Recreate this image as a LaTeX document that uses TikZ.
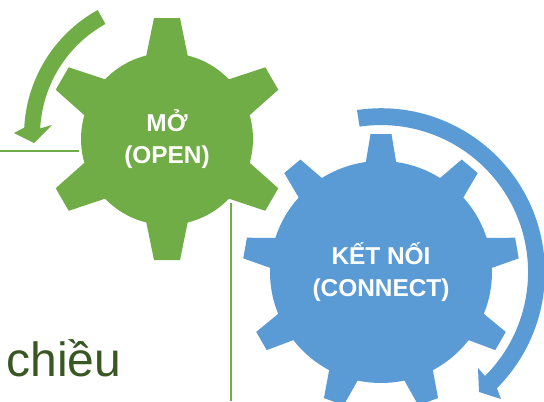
\documentclass[tikz,border=0pt]{standalone}
\usepackage{fontspec}
\setmainfont{Liberation Sans}
\definecolor{gearGreen}{RGB}{112,173,71}
\definecolor{gearBlue}{RGB}{91,155,213}
\definecolor{wordGreen}{RGB}{56,87,35}
\tikzset{
  gearbody/.style={circle,inner sep=0pt,align=center,text=white,font=\fontsize{18.3}{23.5}\selectfont\bfseries},
  rimline/.style={color=gearGreen,line width=1.75pt},
}
\begin{document}
\begin{tikzpicture}[x=0.75pt,y=0.75pt,yscale=-1,xscale=1]
	\useasboundingbox (0,0) rectangle (544,401);

	% green lines behind the gears
	\coordinate (leftStart) at (0,151);
	\coordinate (leftEnd) at (79,151);
	\coordinate (downStart) at (231,203);
	\coordinate (downEnd) at (231,401);
	\draw [rimline] (leftStart) -- (leftEnd);
	\draw [rimline] (downStart) -- (downEnd);

	% green gear
	\foreach \a in {0,60,...,300}
		\fill [gearGreen,shift={(167,139)},rotate=\a] (-21,-82) -- (-13,-121) -- (13,-121) -- (21,-82) -- cycle;
	\node [gearbody,fill=gearGreen,minimum size=129pt] (open) at (167,139) {MỞ\\(OPEN)};

	% blue gear
	\foreach \a in {0,40,...,320}
		\fill [gearBlue,shift={(381,272)},rotate=\a] (-15.5,-108) -- (-10.5,-138) -- (10.5,-138) -- (15.5,-108) -- cycle;
	\node [gearbody,fill=gearBlue,minimum size=166.5pt] (connect) at (381,272) {KẾT NỐI\\(CONNECT)};

	% turning arrows
	\fill [gearGreen] (97.7,10) arc [start angle=241,end angle=183,radius=143] -- (14,133) -- (34,143) -- (52,125) -- (40.2,128.4) arc [start angle=183,end angle=241,radius=127] -- cycle;
	\fill [gearBlue] (357,110) arc [start angle=261.6,end angle=405,radius=164] -- (501,399) -- (479,392) -- (478,368) -- (485,376) arc [start angle=405,end angle=261.6,radius=147] -- cycle;

	\node [anchor=base,text=wordGreen,font=\fontsize{36}{43}\selectfont] (word) at (64,376) {chiều};
\end{tikzpicture}
\end{document}
